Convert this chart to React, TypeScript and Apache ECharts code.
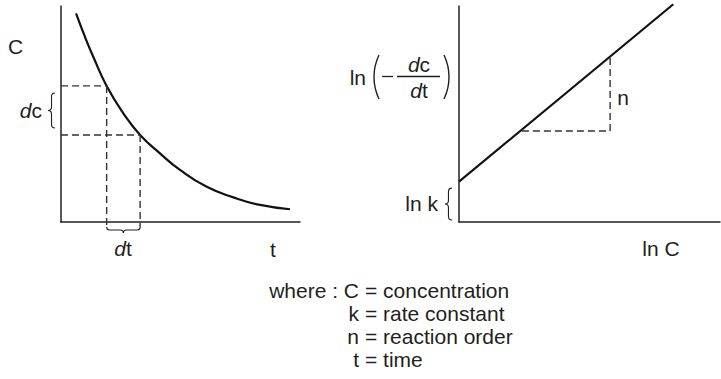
import React, { useEffect, useRef } from "react";
import * as echarts from "echarts";

// Left panel: concentration decay curve (t on x, C on y, both 0..100 scale)
const timeValues = [6.3, 10.0, 13.5, 19.1, 26.1, 33.1, 41.4, 49.8, 61.0, 72.1, 83.3, 95.8];
const concValues = [96.6, 85.8, 76.5, 63.0, 50.3, 40.3, 31.8, 24.1, 16.3, 11.4, 7.9, 5.9];
const dtRange = [19.1, 33.1]; // t at the two dashed verticals
const dcRange = [63.0, 40.3]; // C at the two dashed horizontals
const dashBottom = -2.3; // dashed verticals run slightly below the axis
const dcBrace = [-2.5, 43.5, 59.7]; // [t, C from, C to]
const dtBrace = [19.1, 33.1, -2.3]; // [t from, t to, C]

// Right panel: ln(-dc/dt) vs ln C
const lnCValues = [0, 82.1];
const lnRateValues = [18.7, 100.8];
const triLnC = [24.1, 57.9];
const triLnRate = [42.1, 76.6];
const lnkBrace = [-2.7, 0.9, 15.7]; // [lnC, from, to]

// Legend lines
const legendSymbols = ["where : C", "k", "n", "t"];
const legendMeanings = ["concentration", "rate constant", "reaction order", "time"];

const INK = "#231f20";
const DASH = "#333333";
const FONT = "Liberation Sans, Arial, sans-serif";
const FS = 21;

function braceV(x: number, y0: number, y1: number, w: number) {
  const h = w / 2;
  const mid = (y0 + y1) / 2;
  return `M${x} ${y0} Q${x - h} ${y0} ${x - h} ${y0 + h} L${x - h} ${mid - h} Q${x - h} ${mid} ${x - w} ${mid} Q${x - h} ${mid} ${x - h} ${mid + h} L${x - h} ${y1 - h} Q${x - h} ${y1} ${x} ${y1}`;
}
function braceH(x0: number, x1: number, y: number, w: number) {
  const h = w / 2;
  const mid = (x0 + x1) / 2;
  return `M${x0} ${y} Q${x0} ${y + h} ${x0 + h} ${y + h} L${mid - h} ${y + h} Q${mid} ${y + h} ${mid} ${y + w} Q${mid} ${y + h} ${mid + h} ${y + h} L${x1 - h} ${y + h} Q${x1} ${y + h} ${x1} ${y}`;
}

const axisCommon = {
  type: "value" as const,
  min: 0,
  max: 100,
  axisLine: { show: true, onZero: false, lineStyle: { color: INK, width: 1.5 } },
  axisTick: { show: false },
  axisLabel: { show: false },
  splitLine: { show: false },
};

function dashed(data: number[][], idx: number) {
  return {
    type: "line",
    xAxisIndex: idx,
    yAxisIndex: idx,
    data,
    symbol: "none",
    clip: false,
    silent: true,
    lineStyle: { color: DASH, width: 1.4, type: [7, 4] },
  };
}

function txt(text: string, x: number, y: number, align: string, extra: any = {}) {
  return {
    type: "text",
    x,
    y,
    style: {
      text,
      fill: INK,
      font: `${FS}px ${FONT}`,
      align,
      verticalAlign: "middle",
      ...extra,
    },
  };
}

function richD(rest: string, x: number, y: number, align: string) {
  return {
    type: "text",
    x,
    y,
    style: {
      text: `{i|d}{n|${rest}}`,
      align,
      verticalAlign: "middle",
      rich: {
        i: { fontSize: FS, fontFamily: FONT, fontStyle: "italic", fill: INK },
        n: { fontSize: FS, fontFamily: FONT, fill: INK },
      },
    },
  };
}

export default function App() {
  const ref = useRef<HTMLDivElement>(null);
  useEffect(() => {
    document.body.style.margin = "0";
    if (!ref.current) return;
    const chart = echarts.init(ref.current, undefined, { renderer: "svg" });

    const graphic: any[] = [
      txt("C", 8, 46, "left"),
      richD("c", 42, 110, "right"),
      richD("t", 123, 248, "center"),
      txt("t", 273, 249, "center"),
      txt("n", 623, 97, "center"),
      txt("ln k", 438, 203, "right"),
      txt("ln C", 661, 248, "center"),
      txt("ln", 366, 77, "right"),
      {
        type: "arc",
        shape: { cx: 424.9, cy: 77, r: 50.9, startAngle: Math.PI - 0.447, endAngle: Math.PI + 0.447, clockwise: true },
        style: { stroke: INK, lineWidth: 1.4, fill: "none" },
      },
      {
        type: "line",
        shape: { x1: 382, y1: 76.5, x2: 393, y2: 76.5 },
        style: { stroke: INK, lineWidth: 1.3 },
      },
      {
        type: "line",
        shape: { x1: 397, y1: 76.5, x2: 440, y2: 76.5 },
        style: { stroke: INK, lineWidth: 1.3 },
      },
      richD("c", 419, 64, "center"),
      richD("t", 419, 90, "center"),
      {
        type: "arc",
        shape: { cx: 398.1, cy: 77, r: 50.9, startAngle: -0.447, endAngle: 0.447, clockwise: true },
        style: { stroke: INK, lineWidth: 1.4, fill: "none" },
      },
    ];
    legendSymbols.forEach((s, i) => {
      const y = 290 + i * 23.3;
      graphic.push(txt(s, 359, y, "right"));
      graphic.push(txt(`= ${legendMeanings[i]}`, 365, y, "left"));
    });

    const braceSeries = (data: number[], idx: number, horizontal: boolean) => ({
      type: "custom",
      xAxisIndex: idx,
      yAxisIndex: idx,
      silent: true,
      clip: false,
      data: [data],
      renderItem: (_p: any, api: any) => {
        let d: string;
        if (horizontal) {
          const a = api.coord([api.value(0), api.value(2)]);
          const b = api.coord([api.value(1), api.value(2)]);
          d = braceH(a[0], b[0], a[1], 6);
        } else {
          const a = api.coord([api.value(0), api.value(1)]);
          const b = api.coord([api.value(0), api.value(2)]);
          d = braceV(a[0], Math.min(a[1], b[1]), Math.max(a[1], b[1]), 7);
        }
        return {
          type: "path",
          shape: { pathData: d },
          style: { fill: "none", stroke: INK, lineWidth: 1.1 },
        };
      },
    });

    chart.setOption({
      animation: false,
      grid: [
        { left: 61, top: 6, width: 239, height: 216 },
        { left: 459, top: 6, width: 261, height: 216 },
      ],
      xAxis: [{ ...axisCommon, gridIndex: 0 }, { ...axisCommon, gridIndex: 1 }],
      yAxis: [{ ...axisCommon, gridIndex: 0 }, { ...axisCommon, gridIndex: 1 }],
      graphic,
      series: [
        {
          type: "line",
          xAxisIndex: 0,
          yAxisIndex: 0,
          data: timeValues.map((t, i) => [t, concValues[i]]),
          smooth: true,
          symbol: "none",
          clip: false,
          lineStyle: { color: "#111", width: 2.2 },
        },
        dashed([[0, dcRange[0]], [dtRange[0], dcRange[0]]], 0),
        dashed([[0, dcRange[1]], [dtRange[1], dcRange[1]]], 0),
        dashed([[dtRange[0], dcRange[0]], [dtRange[0], dashBottom]], 0),
        dashed([[dtRange[1], dcRange[1]], [dtRange[1], dashBottom]], 0),
        braceSeries(dcBrace, 0, false),
        braceSeries(dtBrace, 0, true),
        {
          type: "line",
          xAxisIndex: 1,
          yAxisIndex: 1,
          data: lnCValues.map((x, i) => [x, lnRateValues[i]]),
          symbol: "none",
          clip: false,
          lineStyle: { color: "#111", width: 2.2 },
        },
        dashed([[triLnC[0], triLnRate[0]], [triLnC[1], triLnRate[0]]], 1),
        dashed([[triLnC[1], triLnRate[0]], [triLnC[1], triLnRate[1]]], 1),
        braceSeries(lnkBrace, 1, false),
      ],
    });
    return () => chart.dispose();
  }, []);
  return <div ref={ref} style={{ width: 721, height: 379 }} />;
}
